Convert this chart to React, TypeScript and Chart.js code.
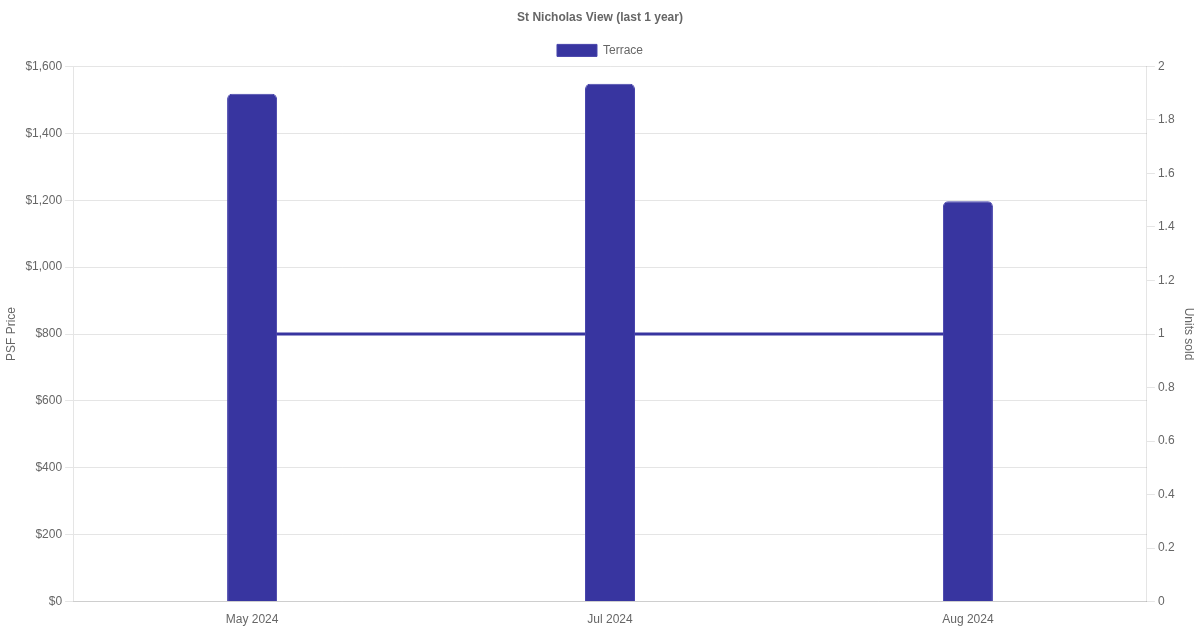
import React, { useEffect, useRef } from "react";
import { Chart, registerables } from "chart.js";

Chart.register(...registerables);

const title = "St Nicholas View (last 1 year)";
const categories = ["May 2024", "Jul 2024", "Aug 2024"];
const psfPrices = [1518, 1548, 1197];
const unitsSold = [1, 1, 1];
const seriesLabel = "Terrace";
const barColor = "#3835a0";

export default function App() {
  const ref = useRef<HTMLCanvasElement | null>(null);
  useEffect(() => {
    document.body.style.margin = "0";
    const ctx = ref.current!.getContext("2d")!;
    const chart = new Chart(ctx, {
      type: "bar",
      data: {
        labels: categories,
        datasets: [
          {
            type: "bar",
            label: seriesLabel,
            data: psfPrices,
            backgroundColor: barColor,
            borderColor: "#4744ac",
            borderWidth: 1,
            borderRadius: 5,
            borderSkipped: "bottom",
            maxBarThickness: 50,
            yAxisID: "y",
            order: 0,
          },
          {
            type: "line",
            label: "Units sold",
            data: unitsSold,
            borderColor: barColor,
            backgroundColor: barColor,
            borderWidth: 3,
            pointRadius: 0,
            fill: false,
            yAxisID: "y1",
            order: 1,
          },
        ] as any,
      },
      options: {
        animation: false,
        responsive: false,
        maintainAspectRatio: false,
        plugins: {
          title: {
            display: true,
            text: title,
            color: "#666",
            font: { size: 12, weight: "bold" },
          },
          legend: {
            labels: {
              color: "#666",
              filter: (item: any) => item.text === seriesLabel,
            },
          },
          tooltip: { enabled: false },
        },
        scales: {
          x: {
            grid: { display: false },
            ticks: { color: "#666" },
          },
          y: {
            position: "left",
            min: 0,
            max: 1600,
            ticks: {
              stepSize: 200,
              color: "#666",
              callback: (v: any) => "$" + Number(v).toLocaleString("en-US"),
            },
            title: { display: true, text: "PSF Price", color: "#666" },
          },
          y1: {
            position: "right",
            min: 0,
            max: 2,
            ticks: {
              stepSize: 0.2,
              color: "#666",
              callback: (v: any) => String(Math.round(Number(v) * 10) / 10),
            },
            grid: { drawOnChartArea: false },
            title: { display: true, text: "Units sold", color: "#666" },
          },
        },
      } as any,
    });
    return () => chart.destroy();
  }, []);
  return (
    <div style={{ width: 1200, height: 630 }}>
      <canvas ref={ref} width={1200} height={630} />
    </div>
  );
}
